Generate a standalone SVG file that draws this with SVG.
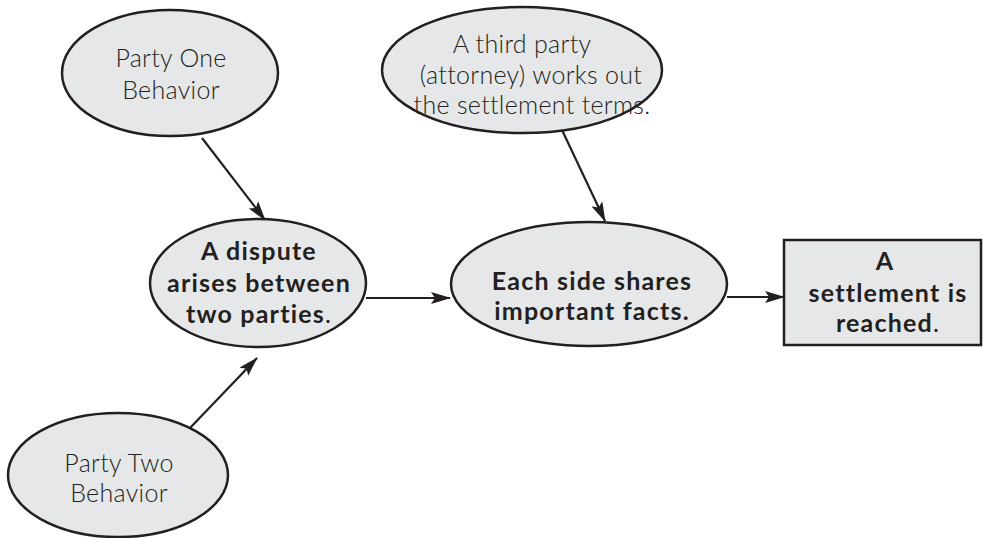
<svg xmlns="http://www.w3.org/2000/svg" width="983" height="538" viewBox="0 0 983 538">
<style>
.shape{fill:#e6e7e8;stroke:#231f20;stroke-width:2.5}
.light{font-family:Lato,"Liberation Sans",sans-serif;font-weight:300;font-size:25px;letter-spacing:0.3px;fill:#231f20;text-anchor:middle}
.bold{font-family:Lato,"Liberation Sans",sans-serif;font-weight:700;font-size:25px;letter-spacing:1.2px;fill:#231f20;text-anchor:middle}
.plain{font-weight:400}
.conn{stroke:#231f20;stroke-width:2.2;fill:none;marker-end:url(#arr)}
</style>
<defs>
<marker id="arr" viewBox="0 0 20 12" refX="19" refY="6" markerWidth="20" markerHeight="12" markerUnits="userSpaceOnUse" orient="auto">
<path d="M0,0 L20,6 L0,12 L4,6 Z" fill="#231f20"/>
</marker>
</defs>
<rect width="983" height="538" fill="#ffffff"/>
<g id="connectors">
<line class="conn" x1="202" y1="138" x2="265" y2="220"/>
<line class="conn" x1="190" y1="428" x2="257" y2="358"/>
<line class="conn" x1="562" y1="130" x2="605" y2="221"/>
<line class="conn" x1="366" y1="298" x2="450" y2="298"/>
<line class="conn" x1="727" y1="297" x2="784" y2="297"/>
</g>
<g id="party-one">
<ellipse class="shape" cx="170" cy="73" rx="108" ry="63"/>
<text class="light" x="171" y="67">Party One</text>
<text class="light" x="171" y="99">Behavior</text>
</g>
<g id="third-party">
<ellipse class="shape" cx="522" cy="70" rx="140" ry="63"/>
<text class="light" x="522" y="53">A third party</text>
<text class="light" x="531" y="84">(attorney) works out</text>
<text class="light" x="532" y="114">the settlement terms.</text>
</g>
<g id="dispute">
<ellipse class="shape" cx="258" cy="283" rx="108" ry="64"/>
<text class="bold" x="259" y="260">A dispute</text>
<text class="bold" x="259" y="292">arises between</text>
<text class="bold" x="259" y="323">two parties<tspan class="plain">.</tspan></text>
</g>
<g id="each-side">
<ellipse class="shape" cx="589" cy="284" rx="138" ry="62"/>
<text class="bold" x="592" y="290">Each side shares</text>
<text class="bold" x="592" y="320">important facts.</text>
</g>
<g id="settlement">
<rect class="shape" x="784" y="240" width="197" height="105"/>
<text class="bold" x="885" y="270">A</text>
<text class="bold" x="888" y="302">settlement is</text>
<text class="bold" x="888" y="332">reached<tspan class="plain">.</tspan></text>
</g>
<g id="party-two">
<ellipse class="shape" cx="118" cy="475" rx="110" ry="62"/>
<text class="light" x="119" y="472">Party Two</text>
<text class="light" x="119" y="502">Behavior</text>
</g>
</svg>
